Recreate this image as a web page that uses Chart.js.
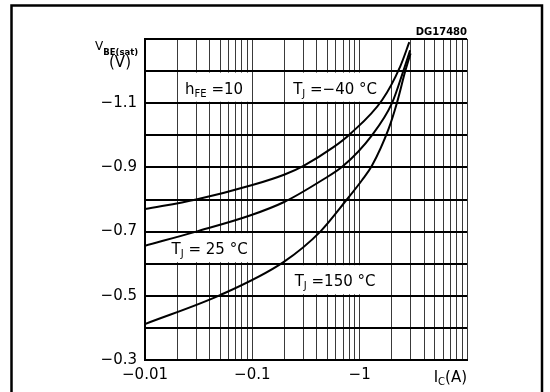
<!DOCTYPE html>
<html>
<head>
<meta charset="utf-8">
<script src="https://cdn.jsdelivr.net/npm/chart.js@4.4.1/dist/chart.umd.min.js"></script>
<style>
  html, body { margin: 0; padding: 0; background: #fff; }
  #wrap { width: 550px; height: 392px; position: relative; }
</style>
</head>
<body>
<div id="wrap"><canvas id="chart"></canvas></div>
<script>
// I_C magnitude in A (axis shows it with a minus sign), V_BE(sat) in V
const icMinus40 = [0.01, 0.03, 0.1, 0.2, 0.3, 0.57, 0.82, 1.62, 2.39, 2.9];
const vbeMinus40 = [-0.77, -0.80, -0.845, -0.878, -0.905, -0.963, -1.005, -1.11, -1.215, -1.29];

const ic25 = [0.01, 0.03, 0.095, 0.2, 0.445, 0.7, 1.3, 2.0, 2.55, 2.95];
const vbe25 = [-0.656, -0.70, -0.75, -0.793, -0.86, -0.904, -1.0, -1.1, -1.2, -1.265];

const ic150 = [0.01, 0.05, 0.195, 0.43, 0.76, 1.05, 1.3, 1.86, 2.22, 2.66, 2.98];
const vbe150 = [-0.412, -0.502, -0.605, -0.70, -0.80, -0.86, -0.905, -1.02, -1.1, -1.2, -1.255];

const xTickValues = [0.01, 0.1, 1];
const xTickText = ['\u22120.01', '\u22120.1', '\u22121'];
const yTickValues = [-1.1, -0.9, -0.7, -0.5, -0.3];
const yTickText = ['\u22121.1', '\u22120.9', '\u22120.7', '\u22120.5', '\u22120.3'];

const FONT = 'DejaVu Sans';

function toPoints(xs, ys) {
    return xs.map((v, i) => ({ x: v, y: ys[i] }));
}

function curve(xs, ys) {
    return {
        data: toPoints(xs, ys),
        borderColor: '#000',
        borderWidth: 2,
        pointRadius: 0,
        fill: false,
        cubicInterpolationMode: 'monotone'
    };
}

// text pieces: [text, size, dy, bold]
function drawRich(ctx, parts, x, baseline, align) {
    let w = 0;
    parts.forEach(p => {
        ctx.font = (p[3] ? 'bold ' : '') + p[1] + 'px "' + FONT + '"';
        w += ctx.measureText(p[0]).width;
    });
    let cx = align === 'right' ? x - w : (align === 'left' ? x : x - w / 2);
    ctx.textAlign = 'left';
    ctx.textBaseline = 'alphabetic';
    parts.forEach(p => {
        ctx.font = (p[3] ? 'bold ' : '') + p[1] + 'px "' + FONT + '"';
        ctx.fillText(p[0], cx, baseline + (p[2] || 0));
        cx += ctx.measureText(p[0]).width;
    });
}

// boxes behind the labels, in data units: [x0, x1, yTop, yBottom]
const labelBoxes = [
    [0.02, 0.1, -1.2, -1.1],
    [0.2, 2, -1.2, -1.1],
    [0.01, 0.1, -0.7, -0.6],
    [0.2, 2, -0.6, -0.5]
];
const labels = [
    { x: 0.044, row: -1.1, parts: [['h', 15], ['FE', 10, 3], [' =10', 15]] },
    { x: 0.59, row: -1.1, parts: [['T', 15], ['J', 10, 3], [' =\u221240 \u00b0C', 15]] },
    { x: 0.04, row: -0.6, parts: [['T', 15], ['J', 10, 3], [' = 25 \u00b0C', 15]] },
    { x: 0.59, row: -0.5, parts: [['T', 15], ['J', 10, 3], [' =150 \u00b0C', 15]] }
];

const decor = {
    id: 'decor',
    beforeDraw(chart) {
        const ctx = chart.ctx;
        ctx.save();
        ctx.fillStyle = '#fff';
        ctx.fillRect(0, 0, chart.width, chart.height);
        ctx.strokeStyle = '#000';
        ctx.lineWidth = 2.5;
        ctx.strokeRect(11.5, 5.5, 530.5, 400);
        ctx.restore();
    },
    beforeDatasetsDraw(chart) {
        const { ctx, scales: { x, y } } = chart;
        ctx.save();
        ctx.fillStyle = '#fff';
        labelBoxes.forEach(b => {
            const l = x.getPixelForValue(b[0]), r = x.getPixelForValue(b[1]);
            const t = Math.min(y.getPixelForValue(b[2]), y.getPixelForValue(b[3]));
            const bt = Math.max(y.getPixelForValue(b[2]), y.getPixelForValue(b[3]));
            ctx.fillRect(l + 1, t + 1.5, r - l - 2, bt - t - 3);
        });
        ctx.fillStyle = '#000';
        labels.forEach(lb => {
            drawRich(ctx, lb.parts, x.getPixelForValue(lb.x), y.getPixelForValue(lb.row) - 9.5, 'center');
        });
        ctx.restore();
    },
    afterDraw(chart) {
        const { ctx, chartArea: a } = chart;
        ctx.save();
        ctx.fillStyle = '#000';
        drawRich(ctx, [['DG17480', 10, 0, true]], a.right, a.top - 4, 'right');
        drawRich(ctx, [['V', 12], ['BE(sat)', 8.5, 5, true]], 95, 50, 'left');
        drawRich(ctx, [['(V)', 15]], 120, 67, 'center');
        drawRich(ctx, [['I', 15], ['C', 10, 3], ['(A)', 15]], a.right, 382, 'right');
        ctx.restore();
    }
};

const gridX = [];
[0.01, 0.1, 1].forEach(d => {
    for (let k = 1; k <= 9; k++) gridX.push(+(d * k).toPrecision(3));
});
gridX.push(10);

new Chart(document.getElementById('chart'), {
    type: 'line',
    data: {
        datasets: [
            curve(icMinus40, vbeMinus40),
            curve(ic25, vbe25),
            curve(ic150, vbe150)
        ]
    },
    options: {
        responsive: true,
        maintainAspectRatio: false,
        animation: false,
        events: [],
        layout: { padding: { left: 100, right: 83, top: 39, bottom: 7 } },
        plugins: { legend: { display: false }, tooltip: { enabled: false } },
        scales: {
            x: {
                type: 'logarithmic',
                min: 0.01,
                max: 10,
                afterFit: s => { s.height = 25; },
                afterBuildTicks: s => { s.ticks = gridX.map(v => ({ value: v })); },
                grid: { color: '#3a3a3a', lineWidth: 1, drawTicks: false },
                border: { color: '#000', width: 2 },
                ticks: {
                    autoSkip: false,
                    maxRotation: 0,
                    padding: 6,
                    color: '#000',
                    font: { family: FONT, size: 15 },
                    callback: v => {
                        const i = xTickValues.findIndex(t => Math.abs(t - v) < t * 1e-6);
                        return i >= 0 ? xTickText[i] : '';
                    }
                }
            },
            y: {
                type: 'linear',
                min: -1.3,
                max: -0.3,
                reverse: true,
                afterFit: s => { s.width = 45; },
                grid: { color: '#000', lineWidth: 2, drawTicks: false },
                border: { color: '#000', width: 2 },
                ticks: {
                    stepSize: 0.1,
                    padding: 8,
                    color: '#000',
                    font: { family: FONT, size: 15 },
                    callback: v => {
                        const i = yTickValues.findIndex(t => Math.abs(t - v) < 1e-6);
                        return i >= 0 ? yTickText[i] : '';
                    }
                }
            }
        }
    },
    plugins: [decor]
});
</script>
</body>
</html>
